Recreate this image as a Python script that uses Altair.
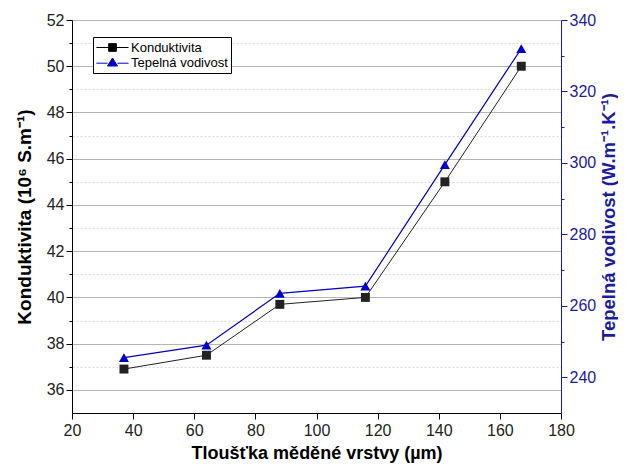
import altair as alt
import pandas as pd

thickness = [37, 64, 88, 116, 142, 167]
konduktivita = [36.9, 37.5, 39.7, 40.0, 45.0, 50.0]
tepelna = [245.5, 249.0, 263.5, 265.5, 299.5, 332.0]

S1 = "Konduktivita"
S2 = "Tepelná vodivost"

df1 = pd.DataFrame({"x": thickness, "y": konduktivita, "series": S1})
df2 = pd.DataFrame({"x": thickness, "y": tepelna, "series": S2})

BLUE = "#0000C8"
AXBLUE = "#1c1c9c"
FONT = "Liberation Sans"

# legend symbols: marker with a short line stub on each side
SQ_PATH = "M-2.3,0H-0.55M0.55,0H2.3M-0.55,-0.55H0.55V0.55H-0.55Z"
TRI_PATH = "M-2.3,0.1H-0.7M0.7,0.1H2.3M0,-0.65L0.72,0.5L-0.72,0.5Z"

col_scale = alt.Scale(domain=[S1, S2], range=["black", BLUE])
shape_scale = alt.Scale(domain=[S1, S2], range=[SQ_PATH, TRI_PATH])

xenc = alt.X("x:Q", scale=alt.Scale(domain=[20, 180], nice=False),
             axis=alt.Axis(values=list(range(20, 181, 20)), title="Tloušťka měděné vrstvy (µm)",
                           grid=False, tickSize=6, domainColor="black", tickColor="black",
                           labelFontSize=16, titleFontSize=18, titleFontWeight="bold",
                           labelColor="#222", titleColor="black", titlePadding=6,
                           labelFlush=False, labelPadding=3,
                           labelFont=FONT, titleFont=FONT))

legend = alt.Legend(title=None, orient="none", legendX=21, legendY=17,
                    strokeColor="black", fillColor="white", padding=3,
                    labelFontSize=13, labelFont=FONT, symbolSize=196, rowPadding=0,
                    symbolStrokeWidth=1, symbolOpacity=1, symbolOffset=9, labelOffset=11)

left_axis = alt.Axis(
    values=list(range(36, 53)),
    labelExpr="datum.value % 2 == 0 ? datum.label : ''",
    tickSize={"condition": {"test": "datum.value % 2 == 1", "value": 3}, "value": 6},
    gridDash={"condition": {"test": "datum.value % 2 == 1", "value": [2, 2]}, "value": []},
    gridColor={"condition": {"test": "datum.value % 2 == 1", "value": "#d8d8d8"}, "value": "#b5b5b5"},
    grid=True, title="Konduktivita (10⁶ S.m⁻¹)", orient="left",
    domainColor="black", tickColor="black", labelColor="#222",
    labelFontSize=16, titleFontSize=19, titleFontWeight="bold", titleColor="black",
    labelFlush=False, labelFont=FONT, titleFont=FONT, titlePadding=12)

right_axis = alt.Axis(
    values=list(range(240, 341, 10)),
    labelExpr="datum.value % 20 == 0 ? datum.label : ''",
    tickSize={"condition": {"test": "datum.value % 20 != 0", "value": 3}, "value": 6},
    grid=False, title="Tepelná vodivost (W.m⁻¹.K⁻¹)", orient="right",
    domainColor=AXBLUE, tickColor=AXBLUE, labelColor=AXBLUE, titleColor=AXBLUE,
    labelFontSize=16, titleFontSize=18.5, titleFontWeight="bold",
    titleAngle=270, titleBaseline="top",
    labelFlush=False, labelFont=FONT, titleFont=FONT, titlePadding=4)

def layer(df, dom, axis, color, strokew, shape, size, with_legend):
    base = alt.Chart(df).encode(
        x=xenc,
        y=alt.Y("y:Q", scale=alt.Scale(domain=dom, nice=False, zero=False), axis=axis),
    )
    line = base.mark_line(color=color, strokeWidth=strokew)
    pts = base.mark_point(filled=True, size=size, opacity=1, shape=shape, color=color)
    layers = [line, pts]
    if with_legend:
        leg = alt.Chart(pd.concat([df1, df2])).mark_point(opacity=0, size=0).encode(
            x=xenc,
            y=alt.Y("y:Q", scale=alt.Scale(domain=dom, nice=False, zero=False), axis=axis),
            fill=alt.Fill("series:N", scale=col_scale, legend=legend),
            stroke=alt.Stroke("series:N", scale=col_scale, legend=legend),
            shape=alt.Shape("series:N", scale=shape_scale, legend=legend),
        ).transform_filter(alt.datum.series == S1)
        layers.append(leg)
    return alt.layer(*layers)

l1 = layer(df1, [35, 52], left_axis, "#222", 1, "square", 80, True)
l2 = layer(df2, [230, 340], right_axis, BLUE, 1.2, "triangle-up", 100, False)

chart = alt.layer(l1, l2).resolve_scale(y="independent").properties(
    width=489, height=393,
    autosize=alt.AutoSizeParams(type="none"),
    padding={"left": 64, "top": 12, "right": 57, "bottom": 52},
).configure_view(stroke=None).configure(background="white")

chart.save("out.html", embed_options={"renderer": "svg", "actions": False})
